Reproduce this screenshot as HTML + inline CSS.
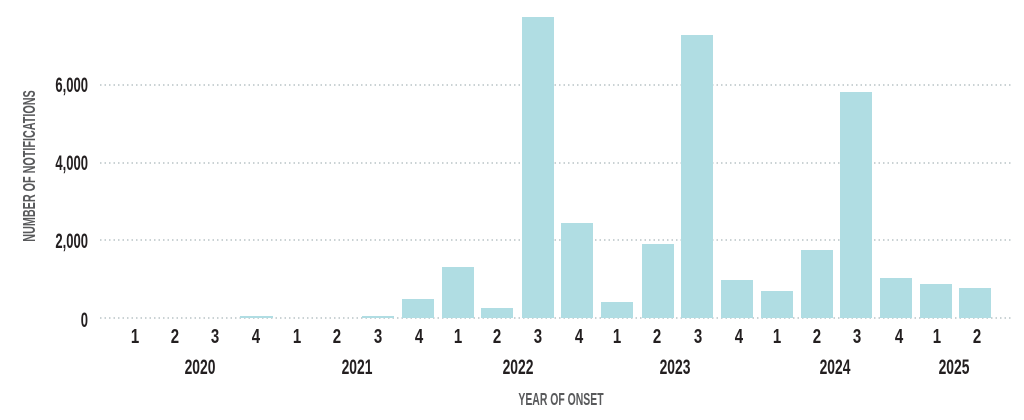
<!DOCTYPE html>
<html><head><style>
body{margin:0;background:#fff;}
svg text{font-family:"Liberation Sans",sans-serif;font-weight:bold;}
</style></head><body>
<svg width="1024" height="415" viewBox="0 0 1024 415" xmlns="http://www.w3.org/2000/svg">
<g stroke="#b9c4c6" stroke-width="1.5" stroke-dasharray="1.5 3">
<line x1="100" y1="85" x2="1013" y2="85"/>
<line x1="100" y1="163" x2="1013" y2="163"/>
<line x1="100" y1="240" x2="1013" y2="240"/>
<line x1="100" y1="318" x2="1013" y2="318"/>
</g>
<g fill="#b0dde3">
<rect x="240" y="316" width="33" height="2"/>
<rect x="362" y="316" width="32" height="2"/>
<rect x="402" y="299" width="32" height="19"/>
<rect x="442" y="267" width="32" height="51"/>
<rect x="481" y="308" width="32" height="10"/>
<rect x="522" y="17" width="32" height="301"/>
<rect x="561" y="223" width="32" height="95"/>
<rect x="601" y="302" width="32" height="16"/>
<rect x="642" y="244" width="32" height="74"/>
<rect x="681" y="35" width="32" height="283"/>
<rect x="721" y="280" width="32" height="38"/>
<rect x="761" y="291" width="32" height="27"/>
<rect x="801" y="250" width="32" height="68"/>
<rect x="840" y="92" width="32" height="226"/>
<rect x="880" y="278" width="32" height="40"/>
<rect x="920" y="284" width="32" height="34"/>
<rect x="959" y="288" width="32" height="30"/>
</g>
<g fill="#231f20" font-size="21" text-anchor="end">
<text x="88" y="92" transform="translate(88,0) scale(0.62,1) translate(-88,0)">6,000</text>
<text x="88" y="170" transform="translate(88,0) scale(0.62,1) translate(-88,0)">4,000</text>
<text x="88" y="248" transform="translate(88,0) scale(0.62,1) translate(-88,0)">2,000</text>
<text x="88" y="327" transform="translate(88,0) scale(0.62,1) translate(-88,0)">0</text>
</g>
<g fill="#231f20" font-size="20" text-anchor="middle" transform="scale(0.75,1)">
<text x="180" y="343">1</text><text x="233.3" y="343">2</text><text x="286.7" y="343">3</text><text x="341.3" y="343">4</text>
<text x="396" y="343">1</text><text x="449.3" y="343">2</text><text x="504" y="343">3</text><text x="558.7" y="343">4</text>
<text x="610.7" y="343">1</text><text x="662.7" y="343">2</text><text x="717.3" y="343">3</text><text x="772" y="343">4</text>
<text x="822.7" y="343">1</text><text x="876" y="343">2</text><text x="930.7" y="343">3</text><text x="985.3" y="343">4</text>
<text x="1036" y="343">1</text><text x="1089.3" y="343">2</text><text x="1142.7" y="343">3</text><text x="1198.7" y="343">4</text>
<text x="1249.3" y="343">1</text><text x="1302.7" y="343">2</text>
</g>
<g fill="#231f20" font-size="21" text-anchor="middle">
<text x="200" y="374" transform="translate(200,0) scale(0.66,1) translate(-200,0)">2020</text>
<text x="357" y="374" transform="translate(357,0) scale(0.66,1) translate(-357,0)">2021</text>
<text x="518" y="374" transform="translate(518,0) scale(0.66,1) translate(-518,0)">2022</text>
<text x="675" y="374" transform="translate(675,0) scale(0.66,1) translate(-675,0)">2023</text>
<text x="835" y="374" transform="translate(835,0) scale(0.66,1) translate(-835,0)">2024</text>
<text x="954" y="374" transform="translate(954,0) scale(0.66,1) translate(-954,0)">2025</text>
</g>
<text x="561" y="405" fill="#58595b" font-size="18" text-anchor="middle" transform="translate(561,0) scale(0.58,1) translate(-561,0)">YEAR OF ONSET</text>
<text transform="translate(35,166) rotate(-90) scale(0.6,1)" fill="#58595b" font-size="18" text-anchor="middle">NUMBER OF NOTIFICATIONS</text>
</svg>
</body></html>
